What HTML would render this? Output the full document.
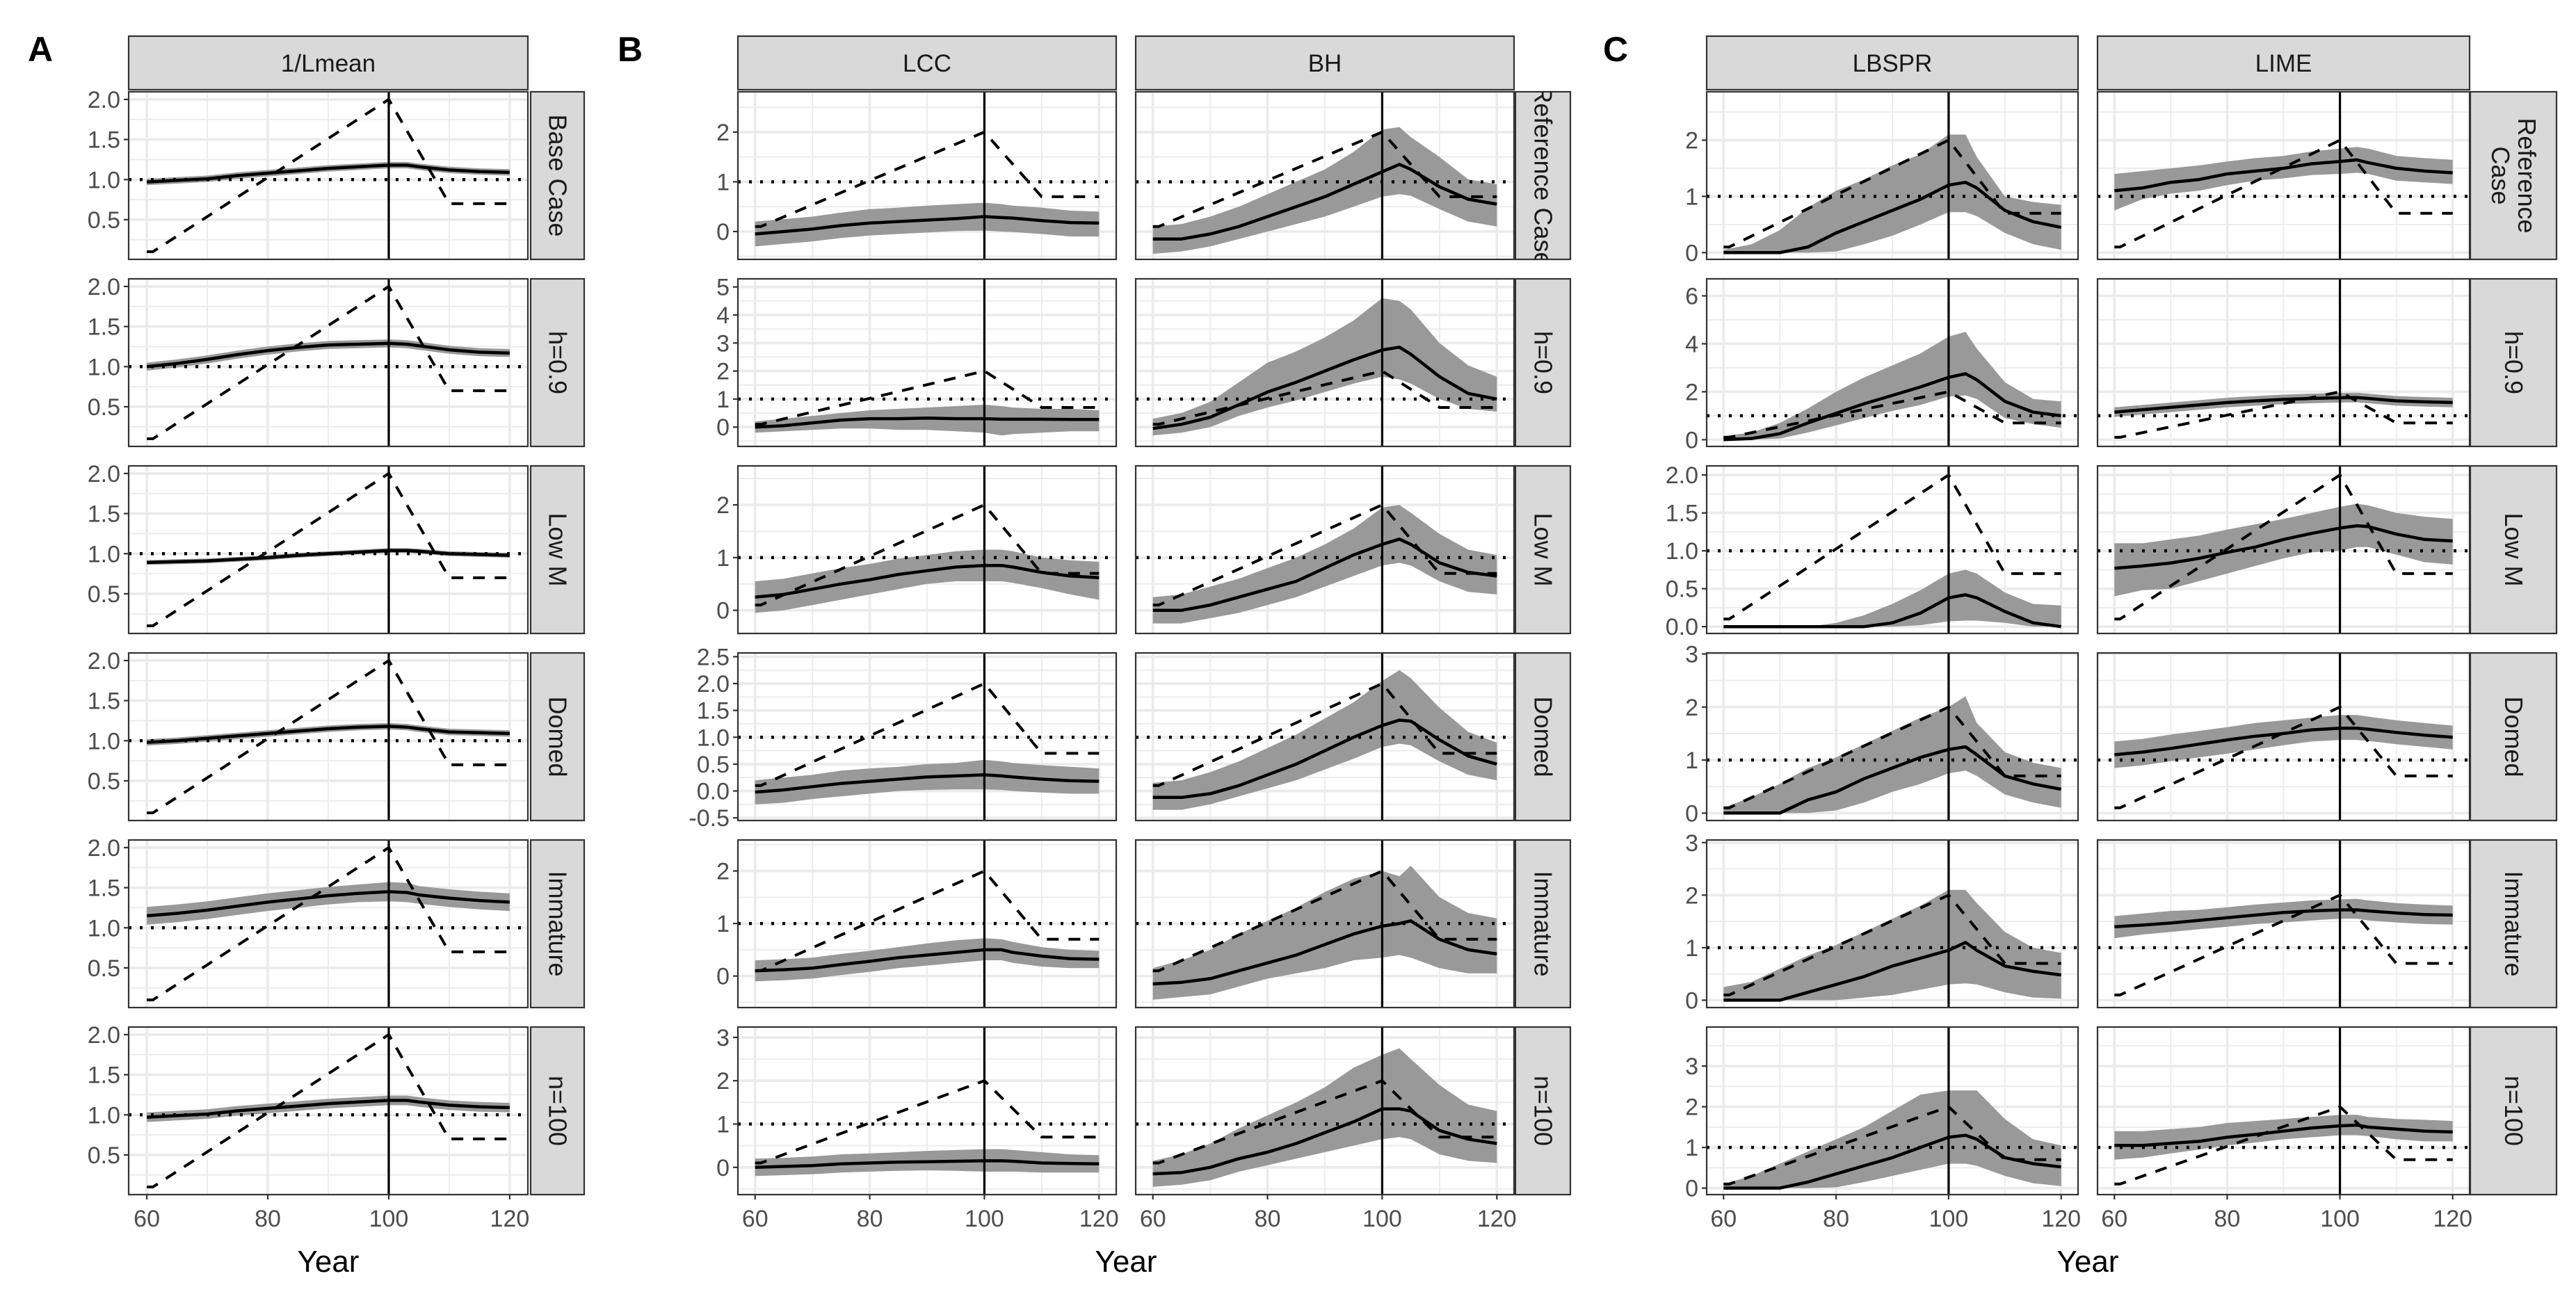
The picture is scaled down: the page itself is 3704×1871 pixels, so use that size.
<!DOCTYPE html>
<html><head><meta charset="utf-8"><style>
html,body{margin:0;padding:0;background:#fff;}
svg{display:block;font-family:"Liberation Sans",sans-serif;}
</style></head><body>
<svg id="chart" xmlns="http://www.w3.org/2000/svg" width="3704" height="1871" viewBox="0 0 3704 1871">
<rect x="0" y="0" width="3704" height="1871" fill="#fff"/>
<text x="40" y="88" font-size="50" font-weight="bold" fill="#000">A</text>
<text x="888" y="88" font-size="50" font-weight="bold" fill="#000">B</text>
<text x="2305" y="88" font-size="50" font-weight="bold" fill="#000">C</text>
</svg>
<script>
// ---- data ----
const YEARS = [60,65,70,75,80,85,90,95,100,103,105,110,115,120];
const TRUE_X = [60,61,100,110,120];
const TRUE_Y = [0.1,0.1,2.0,0.7,0.7];
const X_TICKS = [60,80,100,120];
const ROW_LABELS = ["Base Case","h=0.9","Low M","Domed","Immature","n=100"];
const B_ROW_LABELS = ["Reference Case","h=0.9","Low M","Domed","Immature","n=100"];
const C_ROW_LABELS = ["Reference\nCase","h=0.9","Low M","Domed","Immature","n=100"];

// Panel A (1/Lmean)
const A1_mean=[0.97,0.99,1.01,1.05,1.08,1.11,1.14,1.16,1.18,1.18,1.16,1.12,1.10,1.09];
const A1_lo=[0.93,0.95,0.97,1.01,1.04,1.07,1.10,1.12,1.14,1.14,1.12,1.08,1.06,1.05];
const A1_hi=[1.01,1.03,1.05,1.09,1.12,1.15,1.18,1.20,1.22,1.22,1.20,1.16,1.14,1.13];
const A2_mean=[1.00,1.04,1.09,1.15,1.20,1.24,1.27,1.28,1.29,1.28,1.26,1.21,1.18,1.17];
const A2_lo=[0.95,0.99,1.04,1.10,1.15,1.19,1.22,1.23,1.24,1.23,1.21,1.16,1.13,1.12];
const A2_hi=[1.05,1.09,1.14,1.20,1.25,1.29,1.32,1.33,1.34,1.33,1.31,1.26,1.23,1.22];
const A3_mean=[0.89,0.90,0.91,0.93,0.95,0.98,1.00,1.02,1.04,1.04,1.03,1.00,0.99,0.98];
const A3_lo=[0.86,0.87,0.88,0.90,0.92,0.95,0.97,0.99,1.01,1.01,1.00,0.97,0.96,0.95];
const A3_hi=[0.92,0.93,0.94,0.96,0.98,1.01,1.03,1.05,1.07,1.07,1.06,1.03,1.02,1.01];
const A4_mean=[0.98,1.00,1.03,1.06,1.09,1.12,1.15,1.17,1.18,1.17,1.15,1.11,1.10,1.09];
const A4_lo=[0.94,0.96,0.99,1.02,1.05,1.08,1.11,1.13,1.14,1.13,1.11,1.07,1.06,1.05];
const A4_hi=[1.02,1.04,1.07,1.10,1.13,1.16,1.19,1.21,1.22,1.21,1.19,1.15,1.14,1.13];
const A5_mean=[1.15,1.18,1.22,1.27,1.32,1.36,1.40,1.43,1.45,1.44,1.41,1.37,1.34,1.32];
const A5_lo=[1.04,1.07,1.11,1.16,1.21,1.25,1.29,1.32,1.33,1.32,1.30,1.26,1.23,1.21];
const A5_hi=[1.26,1.29,1.33,1.38,1.43,1.47,1.51,1.54,1.57,1.56,1.52,1.48,1.45,1.43];
const A6_mean=[0.97,0.99,1.01,1.05,1.08,1.11,1.14,1.16,1.18,1.18,1.16,1.12,1.10,1.09];
const A6_lo=[0.91,0.93,0.95,0.99,1.02,1.05,1.08,1.10,1.12,1.12,1.10,1.06,1.04,1.03];
const A6_hi=[1.03,1.05,1.07,1.11,1.14,1.17,1.20,1.22,1.24,1.24,1.22,1.18,1.16,1.15];

// Panel B (LCC, BH)
const B1L_mean=[-0.05,0.0,0.05,0.12,0.17,0.2,0.23,0.26,0.3,0.28,0.27,0.22,0.18,0.17];
const B1L_lo=[-0.3,-0.25,-0.2,-0.13,-0.08,-0.05,-0.02,0.01,0.02,0.0,-0.01,-0.05,-0.1,-0.1];
const B1L_hi=[0.2,0.25,0.3,0.38,0.45,0.48,0.52,0.55,0.58,0.55,0.52,0.48,0.42,0.4];
const B1B_mean=[-0.15,-0.15,-0.05,0.1,0.3,0.5,0.7,0.95,1.2,1.35,1.25,0.9,0.65,0.55];
const B1B_lo=[-0.45,-0.4,-0.3,-0.15,0.0,0.15,0.3,0.5,0.7,0.75,0.72,0.45,0.2,0.1];
const B1B_hi=[0.1,0.15,0.3,0.5,0.75,1.0,1.25,1.6,2.05,2.1,1.9,1.5,1.05,0.95];
const B2L_mean=[0,0.05,0.15,0.25,0.3,0.3,0.32,0.3,0.3,0.28,0.28,0.28,0.27,0.27];
const B2L_lo=[-0.2,-0.15,-0.1,-0.05,-0.05,-0.1,-0.1,-0.15,-0.2,-0.3,-0.25,-0.2,-0.15,-0.15];
const B2L_hi=[0.2,0.3,0.4,0.5,0.6,0.65,0.7,0.75,0.8,0.75,0.7,0.65,0.65,0.6];
const B2B_mean=[-0.05,0.1,0.35,0.8,1.25,1.6,2.0,2.4,2.75,2.85,2.6,1.8,1.2,1.0];
const B2B_lo=[-0.3,-0.2,0.0,0.4,0.7,0.95,1.25,1.55,1.8,1.7,1.55,1.0,0.65,0.55];
const B2B_hi=[0.3,0.5,0.9,1.6,2.3,2.7,3.2,3.8,4.6,4.5,4.2,3.0,2.2,1.8];
const B3L_mean=[0.25,0.3,0.4,0.5,0.58,0.68,0.75,0.82,0.85,0.85,0.82,0.72,0.65,0.62];
const B3L_lo=[-0.05,0.0,0.1,0.2,0.3,0.4,0.5,0.55,0.55,0.55,0.52,0.42,0.3,0.2];
const B3L_hi=[0.55,0.6,0.7,0.8,0.88,0.98,1.05,1.12,1.15,1.15,1.12,1.0,0.95,0.92];
const B3B_mean=[0.0,0.0,0.1,0.25,0.4,0.55,0.8,1.05,1.25,1.35,1.25,0.9,0.72,0.65];
const B3B_lo=[-0.25,-0.25,-0.15,-0.05,0.1,0.25,0.45,0.65,0.85,0.9,0.85,0.55,0.35,0.3];
const B3B_hi=[0.25,0.3,0.45,0.6,0.8,1.0,1.25,1.55,1.95,2.0,1.85,1.45,1.15,1.05];
const B4L_mean=[-0.02,0.02,0.08,0.14,0.18,0.22,0.26,0.28,0.3,0.28,0.26,0.22,0.19,0.18];
const B4L_lo=[-0.25,-0.22,-0.15,-0.1,-0.05,0.0,0.02,0.03,0.03,0.02,0.0,-0.03,-0.05,-0.05];
const B4L_hi=[0.2,0.25,0.3,0.38,0.42,0.45,0.5,0.52,0.58,0.55,0.52,0.48,0.45,0.42];
const B4B_mean=[-0.12,-0.12,-0.05,0.1,0.3,0.5,0.75,1.0,1.22,1.32,1.3,0.95,0.65,0.5];
const B4B_lo=[-0.35,-0.35,-0.25,-0.1,0.05,0.2,0.4,0.6,0.82,0.88,0.85,0.55,0.3,0.2];
const B4B_hi=[0.15,0.2,0.35,0.55,0.8,1.05,1.35,1.65,2.05,2.25,2.1,1.55,1.1,0.9];
const B5L_mean=[0.1,0.12,0.15,0.22,0.28,0.35,0.4,0.45,0.5,0.5,0.45,0.38,0.33,0.32];
const B5L_lo=[-0.1,-0.08,-0.05,0.02,0.08,0.15,0.2,0.25,0.3,0.3,0.25,0.18,0.15,0.15];
const B5L_hi=[0.3,0.32,0.35,0.42,0.48,0.55,0.62,0.68,0.72,0.7,0.65,0.55,0.5,0.48];
const B5B_mean=[-0.15,-0.12,-0.05,0.1,0.25,0.4,0.6,0.8,0.95,1.0,1.05,0.7,0.5,0.42];
const B5B_lo=[-0.45,-0.4,-0.35,-0.2,-0.05,0.05,0.15,0.3,0.35,0.4,0.35,0.15,0.05,0.05];
const B5B_hi=[0.15,0.3,0.5,0.8,1.05,1.3,1.6,1.85,2.0,1.9,2.1,1.5,1.2,1.1];
const B6L_mean=[0,0.02,0.04,0.08,0.1,0.12,0.13,0.14,0.15,0.15,0.14,0.1,0.09,0.08];
const B6L_lo=[-0.2,-0.18,-0.16,-0.12,-0.1,-0.08,-0.07,-0.08,-0.1,-0.1,-0.1,-0.12,-0.12,-0.12];
const B6L_hi=[0.2,0.22,0.25,0.3,0.32,0.35,0.38,0.4,0.42,0.42,0.4,0.35,0.3,0.28];
const B6B_mean=[-0.15,-0.12,0.0,0.2,0.35,0.55,0.8,1.05,1.35,1.35,1.3,0.85,0.65,0.55];
const B6B_lo=[-0.45,-0.4,-0.3,-0.1,0.05,0.2,0.35,0.5,0.65,0.7,0.65,0.3,0.15,0.1];
const B6B_hi=[0.15,0.3,0.55,0.9,1.2,1.5,1.85,2.3,2.6,2.75,2.5,1.9,1.45,1.3];

// Panel C (LBSPR, LIME)
const C1S_mean=[0,0,0,0.1,0.35,0.55,0.75,0.95,1.2,1.25,1.15,0.75,0.55,0.45];
const C1S_lo=[0,0,0,0,0.02,0.15,0.3,0.5,0.72,0.72,0.65,0.35,0.15,0.05];
const C1S_hi=[0.05,0.15,0.4,0.8,1.1,1.3,1.55,1.75,2.1,2.1,1.7,1.0,0.9,0.85];
const C1M_mean=[1.1,1.15,1.25,1.3,1.4,1.45,1.5,1.58,1.62,1.65,1.6,1.5,1.45,1.42];
const C1M_lo=[0.75,0.95,1.05,1.1,1.2,1.28,1.32,1.38,1.4,1.42,1.4,1.28,1.25,1.22];
const C1M_hi=[1.4,1.45,1.5,1.55,1.62,1.68,1.72,1.8,1.85,1.88,1.85,1.72,1.68,1.65];
const C2S_mean=[0,0.05,0.25,0.7,1.1,1.5,1.85,2.2,2.6,2.75,2.5,1.6,1.15,1.0];
const C2S_lo=[0,0,0.05,0.3,0.6,0.9,1.2,1.45,1.8,1.85,1.7,0.9,0.65,0.5];
const C2S_hi=[0.15,0.3,0.7,1.3,2.0,2.6,3.1,3.6,4.3,4.5,3.8,2.4,1.7,1.6];
const C2M_mean=[1.15,1.25,1.35,1.45,1.55,1.62,1.68,1.72,1.75,1.76,1.72,1.62,1.58,1.55];
const C2M_lo=[0.95,1.05,1.15,1.25,1.35,1.42,1.48,1.52,1.55,1.56,1.52,1.42,1.38,1.35];
const C2M_hi=[1.35,1.45,1.55,1.65,1.75,1.82,1.88,1.92,1.95,1.96,1.92,1.82,1.78,1.75];
const C3S_mean=[0,0,0,0,0,0,0.05,0.18,0.38,0.42,0.38,0.2,0.05,0.0];
const C3S_lo=[0,0,0,0,0,0,0,0.02,0.07,0.08,0.08,0.05,0.0,0];
const C3S_hi=[0,0,0,0,0.05,0.15,0.3,0.48,0.7,0.75,0.7,0.45,0.3,0.28];
const C3M_mean=[0.77,0.8,0.84,0.9,0.98,1.05,1.15,1.23,1.3,1.33,1.32,1.22,1.15,1.13];
const C3M_lo=[0.4,0.48,0.5,0.6,0.7,0.8,0.9,0.98,1.0,1.05,1.05,0.95,0.85,0.82];
const C3M_hi=[1.1,1.1,1.15,1.2,1.28,1.35,1.42,1.5,1.58,1.62,1.6,1.5,1.45,1.42];
const C4S_mean=[0,0,0,0.25,0.4,0.65,0.85,1.05,1.2,1.25,1.1,0.7,0.55,0.45];
const C4S_lo=[0,0,0,0,0.05,0.2,0.4,0.55,0.75,0.8,0.7,0.35,0.2,0.1];
const C4S_hi=[0.1,0.3,0.55,0.85,1.05,1.3,1.55,1.8,2.0,2.2,1.7,1.15,0.95,0.85];
const C4M_mean=[1.1,1.15,1.22,1.3,1.38,1.45,1.5,1.57,1.6,1.6,1.58,1.52,1.47,1.43];
const C4M_lo=[0.85,0.9,0.98,1.05,1.12,1.2,1.28,1.35,1.38,1.38,1.36,1.3,1.25,1.2];
const C4M_hi=[1.35,1.4,1.48,1.55,1.62,1.7,1.75,1.8,1.85,1.85,1.82,1.75,1.7,1.65];
const C5S_mean=[0,0,0,0.15,0.3,0.45,0.65,0.8,0.95,1.1,0.95,0.65,0.55,0.48];
const C5S_lo=[0,0,0,0,0,0.05,0.1,0.2,0.3,0.32,0.3,0.15,0.05,0.03];
const C5S_hi=[0.25,0.35,0.6,0.85,1.05,1.3,1.55,1.8,2.1,2.1,1.85,1.3,1.0,0.9];
const C5M_mean=[1.4,1.43,1.47,1.52,1.57,1.62,1.67,1.7,1.72,1.72,1.7,1.66,1.63,1.62];
const C5M_lo=[1.18,1.25,1.3,1.35,1.4,1.45,1.48,1.52,1.55,1.55,1.52,1.48,1.45,1.44];
const C5M_hi=[1.6,1.65,1.7,1.72,1.77,1.82,1.86,1.9,1.92,1.93,1.9,1.85,1.82,1.8];
const C6S_mean=[0,0,0,0.15,0.35,0.55,0.75,1.0,1.25,1.3,1.2,0.75,0.6,0.52];
const C6S_lo=[0,0,0,0,0.02,0.15,0.3,0.45,0.6,0.6,0.55,0.3,0.12,0.05];
const C6S_hi=[0.1,0.3,0.6,0.9,1.2,1.5,1.9,2.3,2.4,2.4,2.4,1.7,1.2,1.05];
const C6M_mean=[1.05,1.05,1.1,1.15,1.25,1.32,1.4,1.48,1.53,1.55,1.5,1.45,1.4,1.38];
const C6M_lo=[0.7,0.75,0.85,0.95,1.05,1.12,1.2,1.25,1.3,1.3,1.28,1.2,1.15,1.15];
const C6M_hi=[1.4,1.4,1.45,1.5,1.6,1.65,1.7,1.75,1.8,1.8,1.75,1.7,1.68,1.65];

// y-axis ticks per row
const A_TICKS = [0.5,1.0,1.5,2.0];
const B_TICKS = [[0,1,2],[0,1,2,3,4,5],[0,1,2],[-0.5,0,0.5,1,1.5,2,2.5],[0,1,2],[0,1,2,3]];
const C_TICKS = [[0,1,2],[0,2,4,6],[0,0.5,1,1.5,2],[0,1,2,3],[0,1,2,3],[0,1,2,3]];

// ---- layout (not data) ----
const NS="http://www.w3.org/2000/svg";
const svg=document.getElementById('chart');
const ROW_TOP=132, ROW_STEP=269, ROW_H=241;
const A_LIM=[[0.005,2.095],[0.005,2.095],[0.005,2.095],[0.005,2.095],[0.005,2.095],[0.005,2.095]];
const B_LIM=[[-0.56,2.81],[-0.69,5.29],[-0.44,2.74],[-0.55,2.57],[-0.60,2.59],[-0.63,3.24]];
const C_LIM=[[-0.12,2.86],[-0.28,6.71],[-0.09,2.12],[-0.14,3.02],[-0.14,3.05],[-0.16,3.96]];

function mk(tag,attrs,parent){const e=document.createElementNS(NS,tag);for(const k in attrs)e.setAttribute(k,attrs[k]);(parent||svg).appendChild(e);return e;}

let clipId=0;
function panel(x0,x1,row,lim,ticks,dec,showY,showX,mean,lo,hi,name){
  const top=ROW_TOP+row*ROW_STEP, bot=top+ROW_H;
  const sx=v=>x0+(v-57)/66*(x1-x0);
  const sy=v=>top+(lim[1]-v)/(lim[1]-lim[0])*ROW_H;
  const g=mk('g',{});
  
  
  const cid='clip'+(clipId++);
  const cp=mk('clipPath',{id:cid},g); mk('rect',{x:x0,y:top,width:x1-x0,height:ROW_H},cp);
  mk('rect',{x:x0,y:top,width:x1-x0,height:ROW_H,fill:'#fff'},g);
  const inner=mk('g',{'clip-path':'url(#'+cid+')'},g);
  const step=ticks.length>1?ticks[1]-ticks[0]:1;
  for(let v=ticks[0]-step*3.5;v<=lim[1]+step;v+=step){ if(v>lim[0]&&v<lim[1]) mk('line',{x1:x0,x2:x1,y1:sy(v),y2:sy(v),stroke:'#ebebeb','stroke-width':1.8},inner);}
  [50,70,90,110,130].forEach(v=>mk('line',{x1:sx(v),x2:sx(v),y1:top,y2:bot,stroke:'#ebebeb','stroke-width':1.8},inner));
  for(let v=ticks[0]-step*4;v<=lim[1]+step;v+=step){ if(v>lim[0]&&v<lim[1]) mk('line',{x1:x0,x2:x1,y1:sy(v),y2:sy(v),stroke:'#ebebeb','stroke-width':3.6},inner);}
  X_TICKS.forEach(v=>mk('line',{x1:sx(v),x2:sx(v),y1:top,y2:bot,stroke:'#ebebeb','stroke-width':3.6},inner));
  let d='M'+YEARS.map((y,i)=>sx(y).toFixed(1)+','+sy(hi[i]).toFixed(1)).join('L');
  for(let i=YEARS.length-1;i>=0;i--) d+='L'+sx(YEARS[i]).toFixed(1)+','+sy(lo[i]).toFixed(1);
  const band=mk('path',{d:d+'Z',fill:'#999'},inner);
  
  
  const ml=mk('polyline',{points:YEARS.map((y,i)=>sx(y).toFixed(1)+','+sy(mean[i]).toFixed(1)).join(' '),fill:'none',stroke:'#000','stroke-width':4.5,'stroke-linejoin':'round'},inner);
  
  
  const tl=mk('polyline',{points:TRUE_X.map((x,i)=>sx(x).toFixed(1)+','+sy(TRUE_Y[i]).toFixed(1)).join(' '),fill:'none',stroke:'#000','stroke-width':4,'stroke-dasharray':'17,14'},inner);
  
  
  const hl=mk('line',{x1:x0,x2:x1,y1:sy(1),y2:sy(1),stroke:'#000','stroke-width':4.5,'stroke-dasharray':'4,12'},inner);
  
  
  const vl=mk('line',{x1:sx(100),x2:sx(100),y1:top,y2:bot,stroke:'#000','stroke-width':3.2},inner);
  
  
  mk('rect',{x:x0,y:top,width:x1-x0,height:ROW_H,fill:'none',stroke:'#333','stroke-width':2.2},g);
  if(showY){
    ticks.forEach(v=>{
      mk('line',{x1:x0-7,x2:x0,y1:sy(v),y2:sy(v),stroke:'#333','stroke-width':2.2},g);
      const t=mk('text',{x:x0-12,y:sy(v)+12,'font-size':34,'text-anchor':'end',fill:'#4d4d4d'},g);
      t.textContent=dec?v.toFixed(1):String(v);
      
      
    });
  }
  if(showX){
    X_TICKS.forEach(v=>{
      mk('line',{x1:sx(v),x2:sx(v),y1:bot,y2:bot+7,stroke:'#333','stroke-width':2.2},g);
      const t=mk('text',{x:sx(v),y:bot+46,'font-size':34,'text-anchor':'middle',fill:'#4d4d4d'},g);
      t.textContent=String(v);
      
      
    });
  }
}

function colStrip(x0,x1,label){
  const r=mk('rect',{x:x0,y:52,width:x1-x0,height:77,fill:'#d9d9d9',stroke:'#333','stroke-width':2.2});
  
  
  const t=mk('text',{x:(x0+x1)/2,y:103,'font-size':35,'text-anchor':'middle',fill:'#1a1a1a'});
  t.textContent=label;
  
  
}
function rowStrip(x0,x1,row,label){
  const top=ROW_TOP+row*ROW_STEP;
  const cid='sclip'+(clipId++);
  const cp=mk('clipPath',{id:cid}); mk('rect',{x:x0,y:top,width:x1-x0,height:ROW_H},cp);
  const r=mk('rect',{x:x0,y:top,width:x1-x0,height:ROW_H,fill:'#d9d9d9',stroke:'#333','stroke-width':2.2});
  
  
  const cx=(x0+x1)/2, cy=top+ROW_H/2;
  const lines=label.split('\n');
  const g=mk('g',{'clip-path':'url(#'+cid+')'});
  lines.forEach((ln,i)=>{
    const off=(i-(lines.length-1)/2)*38;
    const t=mk('text',{x:0,y:0,'font-size':36,'text-anchor':'middle',fill:'#1a1a1a',transform:'translate('+(cx-off-12)+','+cy+') rotate(90)'},g);
    t.textContent=ln;
    
    
  });
}
function axisTitle(x,label){
  const t=mk('text',{x:x,y:1829,'font-size':44,'text-anchor':'middle',fill:'#000'});
  t.textContent=label;
  
  
}

const A_SERIES=[[A1_mean,A1_lo,A1_hi],[A2_mean,A2_lo,A2_hi],[A3_mean,A3_lo,A3_hi],[A4_mean,A4_lo,A4_hi],[A5_mean,A5_lo,A5_hi],[A6_mean,A6_lo,A6_hi]];
const BL_SERIES=[[B1L_mean,B1L_lo,B1L_hi],[B2L_mean,B2L_lo,B2L_hi],[B3L_mean,B3L_lo,B3L_hi],[B4L_mean,B4L_lo,B4L_hi],[B5L_mean,B5L_lo,B5L_hi],[B6L_mean,B6L_lo,B6L_hi]];
const BB_SERIES=[[B1B_mean,B1B_lo,B1B_hi],[B2B_mean,B2B_lo,B2B_hi],[B3B_mean,B3B_lo,B3B_hi],[B4B_mean,B4B_lo,B4B_hi],[B5B_mean,B5B_lo,B5B_hi],[B6B_mean,B6B_lo,B6B_hi]];
const CS_SERIES=[[C1S_mean,C1S_lo,C1S_hi],[C2S_mean,C2S_lo,C2S_hi],[C3S_mean,C3S_lo,C3S_hi],[C4S_mean,C4S_lo,C4S_hi],[C5S_mean,C5S_lo,C5S_hi],[C6S_mean,C6S_lo,C6S_hi]];
const CM_SERIES=[[C1M_mean,C1M_lo,C1M_hi],[C2M_mean,C2M_lo,C2M_hi],[C3M_mean,C3M_lo,C3M_hi],[C4M_mean,C4M_lo,C4M_hi],[C5M_mean,C5M_lo,C5M_hi],[C6M_mean,C6M_lo,C6M_hi]];

colStrip(185,759,'1/Lmean');
colStrip(1061,1605,'LCC'); colStrip(1633,2177,'BH');
colStrip(2454,2988,'LBSPR'); colStrip(3016,3551,'LIME');
const B_DEC=[false,false,false,true,false,false];
const C_DEC=[false,false,true,false,false,false];
for(let r=0;r<6;r++){
  const last=r===5;
  panel(185,759,r,A_LIM[r],A_TICKS,true,true,last,A_SERIES[r][0],A_SERIES[r][1],A_SERIES[r][2],'lmean-panel-'+(r+1));
  rowStrip(763,840,r,ROW_LABELS[r]);
  panel(1061,1605,r,B_LIM[r],B_TICKS[r],B_DEC[r],true,last,BL_SERIES[r][0],BL_SERIES[r][1],BL_SERIES[r][2],'lcc-panel-'+(r+1));
  panel(1633,2177,r,B_LIM[r],B_TICKS[r],B_DEC[r],false,last,BB_SERIES[r][0],BB_SERIES[r][1],BB_SERIES[r][2],'bh-panel-'+(r+1));
  rowStrip(2179,2258,r,B_ROW_LABELS[r]);
  panel(2454,2988,r,C_LIM[r],C_TICKS[r],C_DEC[r],true,last,CS_SERIES[r][0],CS_SERIES[r][1],CS_SERIES[r][2],'lbspr-panel-'+(r+1));
  panel(3016,3551,r,C_LIM[r],C_TICKS[r],C_DEC[r],false,last,CM_SERIES[r][0],CM_SERIES[r][1],CM_SERIES[r][2],'lime-panel-'+(r+1));
  rowStrip(3552,3676,r,C_ROW_LABELS[r]);
}
axisTitle(472,'Year'); axisTitle(1619,'Year'); axisTitle(3002,'Year');
</script>
</body></html>
